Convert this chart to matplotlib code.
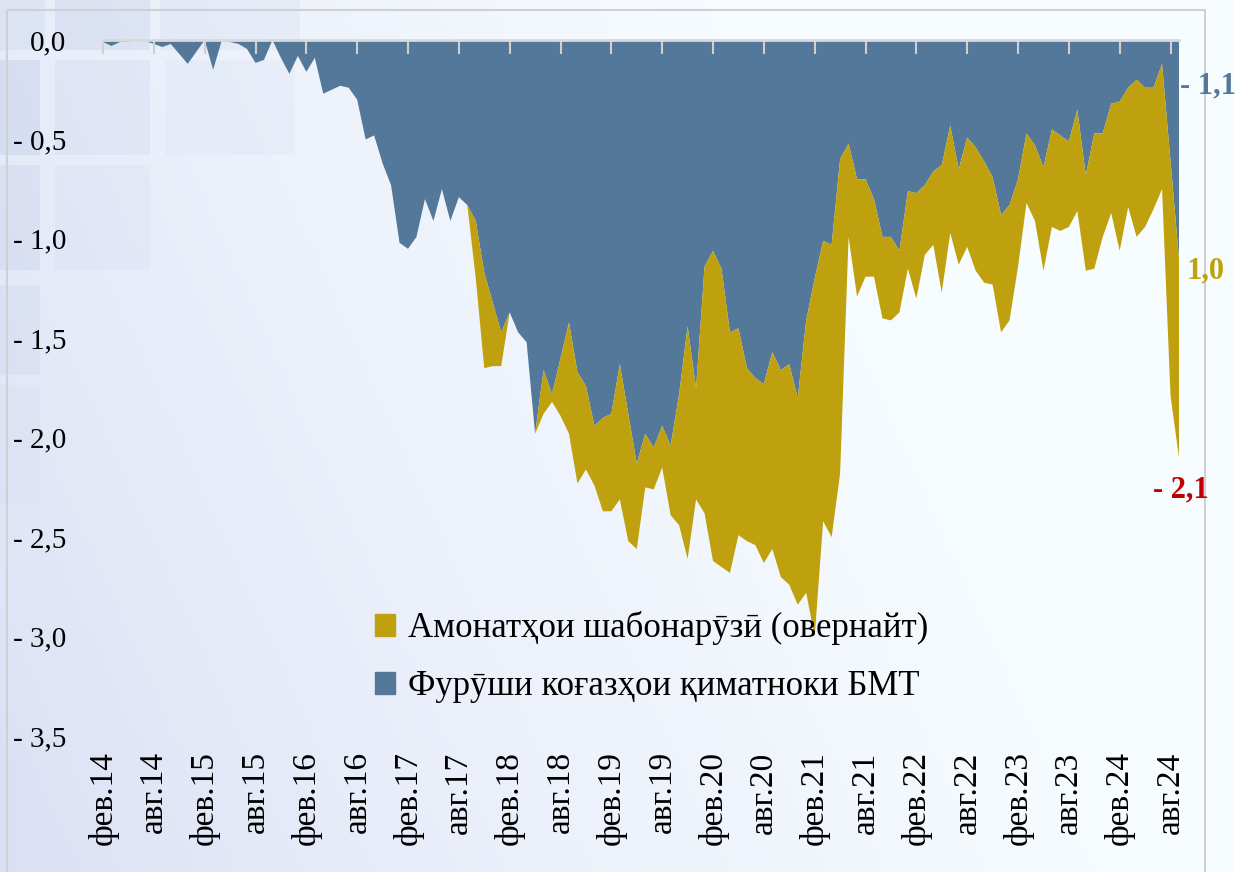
import numpy as np
import matplotlib.pyplot as plt
from matplotlib.patches import Patch, Rectangle

# monthly data, фев.14 .. сен.24
securities = [-0.01, -0.03, -0.01, -0.01, 0.00, -0.005, -0.02, -0.035, -0.02, -0.07,
              -0.12, -0.06, 0.00, -0.15, -0.005, -0.01, -0.02, -0.045, -0.115, -0.10,
              0.00, -0.09, -0.17, -0.08, -0.16, -0.09, -0.27, -0.25, -0.23, -0.24,
              -0.30, -0.50, -0.48, -0.62, -0.73, -1.02, -1.05, -0.99, -0.80, -0.91,
              -0.75, -0.91, -0.79, -0.83, -0.91, -1.17, -1.32, -1.47, -1.37, -1.47,
              -1.52, -1.98, -1.66, -1.78, -1.60, -1.42, -1.67, -1.74, -1.94, -1.90,
              -1.88, -1.63, -1.88, -2.13, -1.98, -2.05, -1.94, -2.04, -1.78, -1.44,
              -1.75, -1.14, -1.06, -1.15, -1.47, -1.45, -1.65, -1.70, -1.73, -1.57,
              -1.66, -1.63, -1.80, -1.41, -1.20, -1.01, -1.03, -0.60, -0.52, -0.70,
              -0.70, -0.80, -0.99, -0.99, -1.06, -0.76, -0.77, -0.73, -0.66, -0.63,
              -0.43, -0.65, -0.49, -0.54, -0.61, -0.69, -0.88, -0.83, -0.70, -0.47,
              -0.53, -0.64, -0.45, -0.48, -0.51, -0.35, -0.68, -0.47, -0.47, -0.32,
              -0.31, -0.24, -0.20, -0.24, -0.24, -0.12, -0.61, -1.10]
overnight = [0.0] * 43 + [
              0.00, -0.29, -0.48, -0.32, -0.17, 0.00, 0.00, 0.00, 0.00, -0.22,
              -0.04, -0.29, -0.56, -0.56, -0.42, -0.30, -0.47, -0.49, -0.68, -0.64,
              -0.43, -0.27, -0.21, -0.21, -0.35, -0.66, -1.17, -0.56, -1.24, -1.56,
              -1.50, -1.21, -1.04, -0.87, -0.84, -0.90, -0.99, -1.04, -1.11, -1.04,
              -1.37, -1.80, -1.41, -1.47, -1.58, -0.47, -0.59, -0.49, -0.39, -0.41,
              -0.42, -0.31, -0.39, -0.53, -0.35, -0.37, -0.64, -0.54, -0.48, -0.55,
              -0.62, -0.61, -0.54, -0.59, -0.58, -0.44, -0.35, -0.38, -0.52, -0.49,
              -0.48, -0.43, -0.51, -0.48, -0.68, -0.52, -0.55, -0.75, -0.60, -0.79,
              -0.70, -0.61, -0.63, -1.18, -1.00]

tick_labels = ["фев.14", "авг.14", "фев.15", "авг.15", "фев.16", "авг.16", "фев.17",
               "авг.17", "фев.18", "авг.18", "фев.19", "авг.19", "фев.20", "авг.20",
               "фев.21", "авг.21", "фев.22", "авг.22", "фев.23", "авг.23", "фев.24",
               "авг.24"]
y_ticks = [0.0, -0.5, -1.0, -1.5, -2.0, -2.5, -3.0, -3.5]
y_labels = ["0,0", "- 0,5", "- 1,0", "- 1,5", "- 2,0", "- 2,5", "- 3,0", "- 3,5"]
legend_names = ["Амонатҳои шабонарӯзӣ (овернайт)", "Фурӯши коғазҳои қиматноки БМТ"]

blue = "#547899"
gold = "#BFA10F"
serif = ["Liberation Serif", "DejaVu Serif"]

W, H = 1235, 872
fig = plt.figure(figsize=(W / 100, H / 100), dpi=100)

# background: soft gradient + faint window squares top-left
bg = fig.add_axes([0, 0, 1, 1], zorder=-5)
gx, gy = np.meshgrid(np.linspace(0, 1, 250), np.linspace(0, 1, 180))
t = np.clip(0.3 + 1.1 * gx - 0.35 * gy, 0, 1) ** 0.7
c0 = np.array([0.86, 0.88, 0.96])
c1 = np.array([0.97, 0.99, 1.0])
img = c0 + (c1 - c0) * t[..., None]
bg.imshow(img, aspect="auto", extent=[0, W, H, 0])
squares = [(0, 0, 45, 50, 0.35), (55, 0, 95, 50, 0.45), (160, 0, 140, 50, 0.25),
           (0, 60, 40, 95, 0.55), (55, 60, 95, 95, 0.3), (165, 60, 130, 95, 0.15),
           (0, 165, 40, 105, 0.4), (55, 165, 95, 105, 0.18), (0, 285, 40, 90, 0.3),
           (0, 385, 40, 120, 0.15)]
for (x0, y0, w, h, a) in squares:
    bg.add_patch(Rectangle((x0, y0), w, h, color="#aebbdc", alpha=a * 0.5, lw=0))
bg.add_patch(Rectangle((7, 10), 1198, 900, fill=False, ec="#cfcfd4", lw=1.5))
bg.set_xlim(0, W)
bg.set_ylim(H, 0)
bg.axis("off")

ax = fig.add_axes([103 / W, 1 - 736 / H, 1076 / W, 696 / H])
ax.set_facecolor("none")
x = np.arange(len(securities))
ax.stackplot(x, securities, overnight, colors=[blue, gold], linewidth=0)

ax.set_xlim(0, len(securities) - 1)
ax.set_ylim(-3.5, 0)
ax.set_xticks(np.arange(0, len(securities), 6))
ax.set_xticklabels(tick_labels, rotation=90, fontsize=24, family=serif)
ax.set_yticks(y_ticks)
ax.set_yticklabels(y_labels, fontsize=21, family=serif)
ax.tick_params(axis="x", bottom=False, top=True, direction="in", length=10,
               width=1.5, color="#d0d0d0", pad=11)
ax.tick_params(axis="y", left=False, pad=23)
for s in ["left", "right", "bottom"]:
    ax.spines[s].set_visible(False)
ax.spines["top"].set_color("#d9d9d9")
ax.spines["top"].set_linewidth(2)

n = len(securities) - 1
ax.text(n + 0.1, -0.23, "- 1,1", color=blue, fontsize=22, fontweight="bold",
        family=serif, va="center", ha="left", clip_on=False)
ax.text(n + 0.9, -1.16, "1,0", color=gold, fontsize=22, fontweight="bold",
        family=serif, va="center", ha="left", clip_on=False)
ax.text(n - 3.1, -2.26, "- 2,1", color="#C00000", fontsize=22, fontweight="bold",
        family=serif, va="center", ha="left", clip_on=False)

handles = [Patch(color=gold), Patch(color=blue)]
ax.legend(handles, legend_names, loc="upper left",
          bbox_to_anchor=(344 / W, 1 - 580 / H), bbox_transform=fig.transFigure,
          frameon=False, prop={"family": serif, "size": 25},
          handlelength=0.58, handleheight=0.58, handletextpad=0.35, labelspacing=0.72)

fig.savefig("out.png", dpi=100)
